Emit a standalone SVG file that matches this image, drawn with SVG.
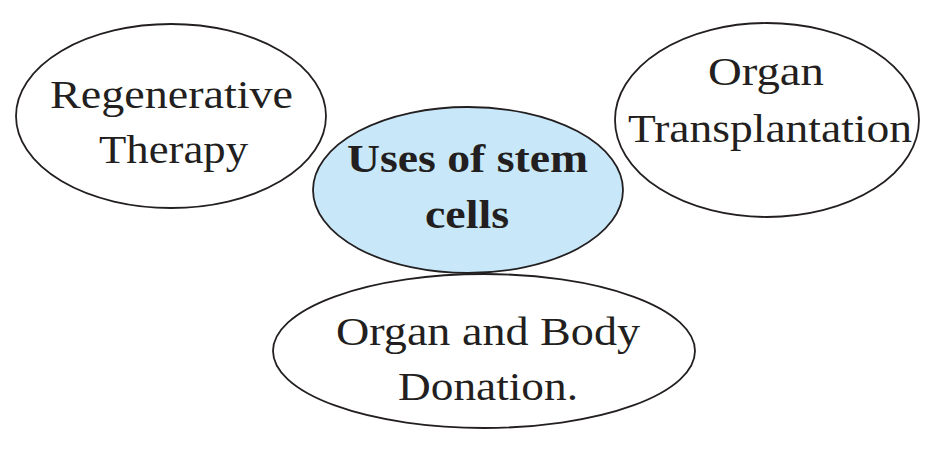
<svg xmlns="http://www.w3.org/2000/svg" width="943" height="450" viewBox="0 0 943 450">
<style>
.n{fill:#ffffff;stroke:#231f20;stroke-width:1.8}
.c{fill:#c8e8f9;stroke:#231f20;stroke-width:1.8}
.t{font-family:'Liberation Serif','Times New Roman',serif;font-size:40px;fill:#231f20;text-anchor:middle}
.b{font-weight:bold;font-size:39px}
</style>
<rect width="943" height="450" fill="#ffffff"/>
<g id="connectors"></g>
<g id="regenerative">
<ellipse class="n" cx="171" cy="116" rx="155" ry="92"/>
<text class="t" x="171.5" y="108" textLength="243" lengthAdjust="spacingAndGlyphs">Regenerative</text>
<text class="t" x="173.5" y="163" textLength="149" lengthAdjust="spacingAndGlyphs">Therapy</text>
</g>
<g id="transplant">
<ellipse class="n" cx="767" cy="120" rx="152" ry="97"/>
<text class="t" x="766" y="85" textLength="116" lengthAdjust="spacingAndGlyphs">Organ</text>
<text class="t" x="770" y="142" textLength="284" lengthAdjust="spacingAndGlyphs">Transplantation</text>
</g>
<g id="center">
<ellipse class="c" cx="468" cy="190" rx="155" ry="83"/>
<text class="t b" x="467.5" y="172" textLength="241" lengthAdjust="spacingAndGlyphs">Uses of stem</text>
<text class="t b" x="467" y="228" textLength="84" lengthAdjust="spacingAndGlyphs">cells</text>
</g>
<g id="donation">
<ellipse class="n" cx="484" cy="351" rx="211" ry="77"/>
<text class="t" x="488" y="345" textLength="304" lengthAdjust="spacingAndGlyphs">Organ and Body</text>
<text class="t" x="488" y="400" textLength="180" lengthAdjust="spacingAndGlyphs">Donation.</text>
</g>
</svg>
